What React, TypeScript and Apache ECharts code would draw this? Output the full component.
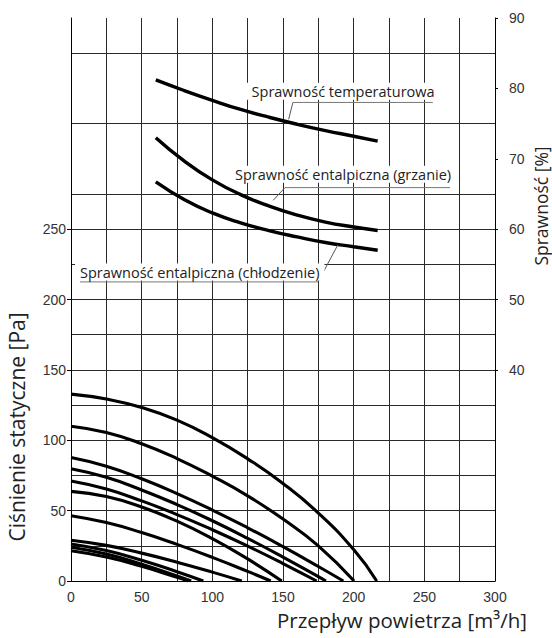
import React, { useEffect, useRef } from 'react';
import * as echarts from 'echarts';

// ---- axes ----
const xMin = 0;
const xMax = 300;
const pressureMax = 400;
const pressureLabels = [0, 50, 100, 150, 200, 250];
const efficiencyMin = 10;
const efficiencyMax = 90;
const efficiencyLabels = [40, 50, 60, 70, 80, 90];

// ---- fan curves: [air flow m3/h, static pressure Pa] ----
const fan1 = [[0, 132.8], [25, 129.3], [50, 123.3], [75, 114.3], [100, 101.8], [125, 86.8], [150, 69.3], [175, 48.3], [200, 22.3], [216.3, 0]];
const fan2 = [[0, 110], [25, 105.5], [50, 97.5], [75, 87], [100, 74.5], [125, 60.5], [150, 44], [175, 25], [200.3, 0]];
const fan3 = [[0, 87.8], [25, 81.6], [50, 72.6], [75, 62.1], [100, 50.4], [125, 37.8], [150, 24.4], [175, 10.3], [192.7, 0]];
const fan4 = [[0, 79.8], [25, 73.7], [50, 64.7], [75, 54.3], [100, 42.8], [125, 30.3], [150, 17.0], [175, 3.1], [180.4, 0]];
const fan5 = [[0, 71], [25, 65.3], [50, 56.9], [75, 47.2], [100, 36.4], [125, 24.8], [150, 12.4], [173.8, 0]];
const fan6 = [[0, 63.7], [25, 60.0], [50, 52.6], [75, 42.5], [100, 30.1], [125, 15.7], [149.1, 0]];
const fan7 = [[0, 46.4], [25, 41.5], [50, 34.4], [75, 26.0], [100, 16.8], [125, 6.8], [141.3, 0]];
const fan8 = [[0, 29], [25, 25.3], [50, 19.8], [75, 13.4], [100, 6.3], [120.8, 0]];
const fan9 = [[0, 26.3], [25, 21.6], [50, 14.7], [75, 6.6], [93.6, 0]];
const fan10 = [[0, 24], [25, 19.1], [50, 12.0], [75, 3.6], [85, 0]];
const fan11 = [[0, 21.5], [25, 17.0], [50, 10.4], [75, 2.6], [83, 0]];
const fanCurves = [fan1, fan2, fan3, fan4, fan5, fan6, fan7, fan8, fan9, fan10, fan11];

// ---- efficiency curves: [air flow m3/h, efficiency %] ----
const effTemperature = [[60, 81.2], [80, 79.7], [100, 78.3], [120, 77.0], [140, 75.9], [160, 74.9], [180, 74.0], [200, 73.2], [217, 72.5]];
const effEnthalpyHeating = [[60, 73.0], [80, 69.7], [100, 67.0], [120, 64.9], [140, 63.3], [160, 62.0], [180, 61.0], [200, 60.3], [217, 59.8]];
const effEnthalpyCooling = [[60, 66.7], [80, 64.2], [100, 62.3], [120, 60.9], [140, 59.8], [160, 58.9], [180, 58.1], [200, 57.5], [217, 57.0]];

// ---- callout labels (anchors in data units: x, efficiency %) ----
const calloutTexts = ['Sprawność temperaturowa', 'Sprawność entalpiczna (grzanie)', 'Sprawność entalpiczna (chłodzenie)'];
const calloutTextPos = [[192.5, 79.6], [192.5, 67.8], [91.1, 53.9]];
const calloutUnderline = [[[157, 78.0], [256, 78.0]], [[151.4, 65.9], [268.2, 65.9]], [[6.4, 52.5], [174.8, 52.5]]];
const calloutLeader = [[[157, 78.0], [154, 75.6]], [[151.4, 65.9], [143.1, 64.1]], [[174.8, 52.5], [188.9, 57.8]]];

const xName = 'Przepływ powietrza [m³/h]';
const yName = 'Ciśnienie statyczne [Pa]';
const y2Name = 'Sprawność [%]';

export default function App() {
  const ref = useRef<HTMLDivElement>(null);
  useEffect(() => {
    document.body.style.margin = '0';
    const chart = echarts.init(ref.current!, null, { renderer: 'svg' });
    const series: any[] = [];
    fanCurves.forEach((d, i) => {
      series.push({
        type: 'line', name: 'fan' + i, data: d, xAxisIndex: 0, yAxisIndex: 0,
        smooth: 0.5, showSymbol: false,
        lineStyle: { color: '#000', width: 3.1 }, z: 5,
      });
    });
    [effTemperature, effEnthalpyHeating, effEnthalpyCooling].forEach((d, i) => {
      series.push({
        type: 'line', name: 'eff' + i, data: d, xAxisIndex: 0, yAxisIndex: 1,
        smooth: 0.5, showSymbol: false,
        lineStyle: { color: '#000', width: 3.4 }, z: 5,
      });
    });
    const gridColor = '#2a2a2a';
    const tickFont = 'Liberation Sans, Arial, sans-serif';
    chart.setOption({
      animation: false,
      grid: { left: 71, top: 18, width: 424, height: 563, containLabel: false },
      xAxis: {
        type: 'value', min: xMin, max: xMax, interval: 50,
        axisLine: { show: true, onZero: false, lineStyle: { color: '#000', width: 1 } },
        axisTick: { show: false },
        axisLabel: { margin: 9, color: '#333', fontSize: 14, fontFamily: tickFont },
        splitLine: { show: true, lineStyle: { color: gridColor, width: 1 } },
        minorTick: { show: false, splitNumber: 2 },
        minorSplitLine: { show: true, lineStyle: { color: gridColor, width: 1 } },
      },
      yAxis: [
        {
          type: 'value', min: 0, max: pressureMax, interval: 50, position: 'left',
          axisLine: { show: true, lineStyle: { color: '#000', width: 1 } },
          axisTick: { show: true, length: 4, customValues: pressureLabels, lineStyle: { color: '#000' } },
          axisLabel: {
            margin: 5, color: '#333', fontSize: 14, fontFamily: tickFont,
            formatter: (v: number) => (pressureLabels.includes(v) ? String(v) : ''),
          },
          splitLine: { show: true, lineStyle: { color: gridColor, width: 1 } },
          minorTick: { show: false, splitNumber: 2 },
          minorSplitLine: { show: true, lineStyle: { color: gridColor, width: 1 } },
        },
        {
          type: 'value', min: efficiencyMin, max: efficiencyMax, interval: 10, position: 'right',
          axisLine: { show: true, lineStyle: { color: '#000', width: 1 } },
          axisTick: { show: true, length: 3, customValues: efficiencyLabels, lineStyle: { color: '#000' } },
          axisLabel: {
            margin: 14, color: '#333', fontSize: 14, fontFamily: tickFont,
            formatter: (v: number) => (efficiencyLabels.includes(v) ? String(v) : ''),
          },
          splitLine: { show: false },
        },
      ],
      series,
    });

    const toPx = (p: number[]) => chart.convertToPixel({ xAxisIndex: 0, yAxisIndex: 1 } as any, p) as number[];
    const graphics: any[] = [];
    calloutTexts.forEach((t, i) => {
      const [u1, u2] = calloutUnderline[i].map(toPx);
      const [l1, l2] = calloutLeader[i].map(toPx);
      graphics.push({ type: 'line', z: 50, shape: { x1: u1[0], y1: u1[1], x2: u2[0], y2: u2[1] }, style: { stroke: '#777', lineWidth: 1 } });
      graphics.push({ type: 'line', z: 50, shape: { x1: l1[0], y1: l1[1], x2: l2[0], y2: l2[1] }, style: { stroke: '#555', lineWidth: 1 } });
      const tp = toPx(calloutTextPos[i]);
      graphics.push({
        type: 'text', z: 60, x: tp[0], y: tp[1],
        style: {
          text: t, align: 'center', verticalAlign: 'middle', fill: '#222',
          fontSize: 14.5, fontFamily: '"Open Sans", sans-serif',
          backgroundColor: '#fff', padding: [1, 5],
        },
      });
    });
    graphics.push({
      type: 'text', x: 402, y: 620,
      style: { text: xName, align: 'center', verticalAlign: 'middle', fill: '#222', fontSize: 20.5, fontFamily: '"Open Sans", sans-serif' },
    });
    graphics.push({
      type: 'text', x: 17, y: 427, rotation: Math.PI / 2,
      style: { text: yName, align: 'center', verticalAlign: 'middle', fill: '#222', fontSize: 21, fontFamily: '"Open Sans", sans-serif' },
    });
    graphics.push({
      type: 'text', x: 541, y: 206, rotation: Math.PI / 2,
      style: { text: y2Name, align: 'center', verticalAlign: 'middle', fill: '#222', fontSize: 17.5, fontFamily: '"Open Sans", sans-serif' },
    });
    chart.setOption({ graphic: graphics });
    return () => chart.dispose();
  }, []);
  return <div ref={ref} style={{ width: 552, height: 638 }} />;
}
